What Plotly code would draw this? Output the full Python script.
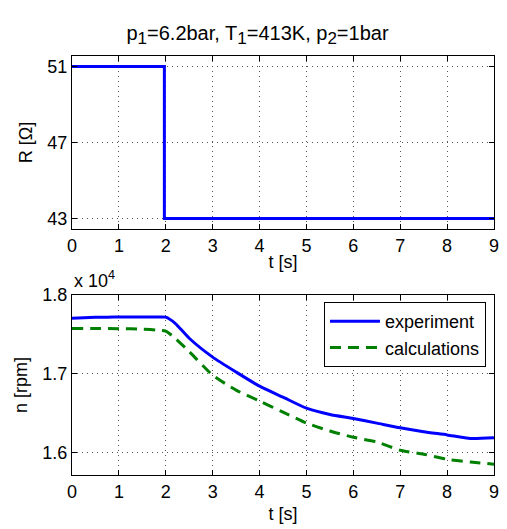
import plotly.graph_objects as go
from plotly.subplots import make_subplots

# Top: resistance step
t_R = [0, 1.97, 1.97, 9]
R = [51, 51, 43, 43]

# Bottom: speed (rpm)
t_exp = [0, 0.25, 0.5, 0.75, 1.0, 1.25, 1.5, 1.75, 2.0, 2.2, 2.5, 3.0, 3.5, 4.0, 4.5, 5.0, 5.5, 6.0, 6.5, 7.0, 7.5, 8.0, 8.5, 9.0]
n_exp = [17705, 17712, 17716, 17718, 17720, 17719, 17720, 17719, 17718, 17640, 17450, 17210, 17020, 16840, 16700, 16560, 16480, 16430, 16370, 16310, 16260, 16220, 16175, 16185]
t_calc = [0, 0.5, 1.0, 1.5, 1.8, 2.0, 2.2, 2.5, 3.0, 3.5, 4.0, 4.5, 5.0, 5.5, 6.0, 6.5, 7.0, 7.5, 8.0, 8.5, 9.0]
n_calc = [17575, 17575, 17572, 17565, 17555, 17540, 17450, 17280, 16980, 16790, 16650, 16510, 16370, 16270, 16190, 16130, 16025, 15975, 15910, 15875, 15847]

x_ticks = list(range(10))

fig = make_subplots(rows=2, cols=1, vertical_spacing=0.0)
fig.add_trace(go.Scatter(x=t_R, y=R, mode="lines", line=dict(color="#0000ff", width=3), showlegend=False), row=1, col=1)
fig.add_trace(go.Scatter(x=t_exp, y=n_exp, mode="lines", name="experiment", line=dict(color="#0000ff", width=3, shape="spline", smoothing=0.6)), row=2, col=1)
fig.add_trace(go.Scatter(x=t_calc, y=n_calc, mode="lines", name="calculations", line=dict(color="#008000", width=3, dash="11px,7px", shape="spline", smoothing=0.6)), row=2, col=1)

FS = 18
axis_common = dict(showline=True, linecolor="black", linewidth=1, mirror="allticks", ticks="inside", ticklen=5,
                   tickcolor="black", showgrid=True, gridcolor="#555", gridwidth=1, griddash="1px,4px", zeroline=False,
                   tickfont=dict(size=FS, color="black"))
fig.update_layout(
    xaxis=dict(domain=[0, 1], range=[0, 9], tickvals=x_ticks, title=dict(text="t [s]", font=dict(size=FS), standoff=0), **axis_common),
    yaxis=dict(domain=[0.587, 1], range=[42.45, 51.55], tickvals=[43, 47, 51], title=dict(text="R [Ω]", font=dict(size=FS), standoff=10), **axis_common),
    xaxis2=dict(domain=[0, 1], range=[0, 9], tickvals=x_ticks, title=dict(text="t [s]", font=dict(size=FS), standoff=6), **axis_common),
    yaxis2=dict(domain=[0, 0.4296], range=[15710, 18000], tickvals=[16000, 17000, 18000], ticktext=["1.6", "1.7", "1.8"],
                title=dict(text="n [rpm]", font=dict(size=FS), standoff=10), **axis_common),
)
sub = lambda s: "<sub><span style='font-size:17px'>" + s + "</span></sub>"
fig.update_layout(
    width=499, height=521,
    margin=dict(l=64, r=13, t=48, b=54, autoexpand=False),
    paper_bgcolor="white", plot_bgcolor="white",
    font=dict(family="Liberation Sans, Arial, sans-serif", size=FS, color="black"),
    title=dict(text="p" + sub("1") + "=6.2bar, T" + sub("1") + "=413K, p" + sub("2") + "=1bar",
               x=0.5, xanchor="center", y=0.952, yanchor="middle", font=dict(size=20)),
    legend=dict(x=0.981, y=0.413, xanchor="right", yanchor="top", bgcolor="white", bordercolor="black", borderwidth=1,
                font=dict(size=FS), tracegroupgap=0, itemwidth=50),
    annotations=[dict(text="x 10<sup>4</sup>", xref="paper", yref="paper", x=0, y=0.434, xanchor="left", yanchor="bottom",
                      showarrow=False, font=dict(size=FS))],
)
fig.write_html("out.html")
